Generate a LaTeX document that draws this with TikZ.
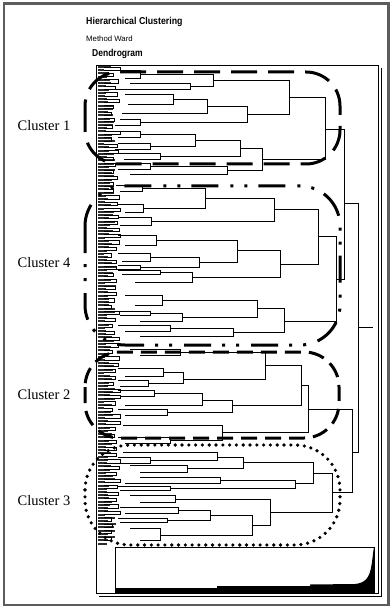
\documentclass[tikz,border=0pt]{standalone}
\usepackage{fontspec}
\setmainfont{Liberation Serif}
\newfontfamily\arialfont{Liberation Sans}
\usepackage{graphicx}
\usepackage{tikz}
\usetikzlibrary{calc}
\definecolor{framegray}{RGB}{92,92,92}
\definecolor{smudge}{RGB}{45,45,45}
\tikzset{
  link/.style={line width=0.9pt,black},
  smear/.style={line width=2pt,smudge},
  panel/.style={line width=0.9pt,black},
  clusone/.style={line width=3pt,dash pattern=on 26pt off 11pt},
  clusfour/.style={line width=3pt,dash pattern=on 27pt off 11pt on 3pt off 11pt on 3pt off 12pt},
  clustwo/.style={line width=3pt,dash pattern=on 16pt off 8pt},
  clusthree/.style={line width=3.6pt,line cap=round,dash pattern=on 0pt off 6.8pt},
  clabel/.style={font=\fontsize{14.5}{16}\selectfont,inner sep=0pt},
  headtext/.style={font=\arialfont\fontsize{10}{12}\selectfont,inner sep=0pt,anchor=west}
}
\begin{document}
\begin{tikzpicture}[x=1pt,y=-1pt]
  \useasboundingbox (0,0) rectangle (391,609);
  \fill[white] (0,0) rectangle (391,609);
  \draw[framegray,line width=2.4pt] (4,3.5) rectangle (388.5,605);
  \node[headtext] (title) at (86,22) {\bfseries\scalebox{0.88}[1]{Hierarchical Clustering}};
  \node[headtext,font=\arialfont\fontsize{7.8}{9}\selectfont] (method) at (86,38.5) {Method Ward};
  \node[headtext] (dendro) at (92,53.5) {\bfseries\scalebox{0.85}[1]{Dendrogram}};
  \draw[panel] (96,65) rectangle (378,593);
  \draw[panel] (381,68) -- (381,596) -- (99,596);
  \pgfmathsetseed{31}
  \foreach \k in {0,...,148}
    {\pgfmathsetmacro\yy{67+3.22*\k}
     \pgfmathsetmacro\ll{104+12*rnd}
     \draw[smear] (98,\yy) -- (\ll,\yy);}
  \foreach \k in {0,...,73}
    {\pgfmathsetmacro\yy{67+6.44*\k}
     \pgfmathsetmacro\hh{111+10*rnd}
     \draw[link] (104,\yy) -- (\hh,\yy) -- (\hh,\yy+3.22) -- (104,\yy+3.22);}
  \foreach \h/\ya/\xa/\yb/\xb in {358/203/344/452/352,344/129/325/279/336,352/409/308/492/332,
      325/97/289/159/262,289/80/213/114/247,213/74/140/86/190,140/70/114/78/125,190/83/130/89/116,
      247/106/207/122/140,207/99/173/113/122,173/94/125/104/128,140/119/120/125/115,
      262/148/240/170/227,240/140/195/156/160,195/134/140/146/150,140/131/115/137/118,
      150/143/118/149/115,160/153/118/159/124,227/166/150/174/130,150/163/116/169/118,
      336/236/318/321/284,318/209/274/264/280,274/198/205/221/151,205/188/142/208/143,
      142/185/116/191/120,143/204/118/212/125,151/217/118/225/120,280/250/237/277/192,
      237/240/156/262/199,156/235/118/245/125,199/257/150/267/140,150/253/118/261/122,
      140/265/118/269/115,192/272/160/282/135,160/270/118/274/122,284/308/257/332/233,
      257/300/162/317/182,162/295/125/305/135,182/313/150/321/140,150/311/118/315/120,
      233/328/170/336/140,170/325/118/331/125,
      308/385/301/432/222,301/365/265/405/232,265/352/180/379/183,180/349/130/355/140,
      183/372/163/383/148,163/368/118/376/125,148/380/118/386/120,232/400/202/412/167,
      202/393/154/405/125,154/390/118/396/120,167/409/118/415/125,222/425/123/440/170,
      170/437/118/443/125,
      332/473/313/512/270,313/462/243/483/295,243/457/217/468/187,217/452/123/460/150,
      150/457/118/463/120,187/465/130/472/140,295/480/220/488/170,220/477/140/483/125,
      170/486/118/490/120,270/499/175/525/252,175/495/130/502/140,252/515/210/535/160,
      210/510/178/520/167,178/507/120/513/125,167/518/118/522/120,160/528/130/540/140}
    \draw[link] (\xa,\ya) -- (\h,\ya) -- (\h,\yb) -- (\xb,\yb);
  \coordinate (rootend) at (373,327);
  \draw[link] (358,327) -- (rootend);
  \draw[panel] (115,547) rectangle (374,593);
  \fill (115,593) -- (115,588) -- (217,588) -- (217,586) -- (310,586) -- (310,584.5) -- (355,584)
    .. controls (365,583) and (369,578) .. (371,568)
    .. controls (372.5,560) and (373,552) .. (374,547) -- (374,593) -- cycle;
  \draw[clusone] (85,72) [rounded corners=34pt] rectangle (340,164);
  \draw[clusfour] (85,186) [rounded corners=40pt] rectangle (340,345);
  \draw[clustwo] (85,352) [rounded corners=35pt] rectangle (339,438);
  \draw[clusthree] (85,445) [rounded corners=45pt] rectangle (340,545);
  \node[clabel] (cone) at (44,126) {Cluster 1};
  \node[clabel] (cfour) at (44,263) {Cluster 4};
  \node[clabel] (ctwo) at (44,395) {Cluster 2};
  \node[clabel] (cthree) at (44,501) {Cluster 3};
\end{tikzpicture}
\end{document}
